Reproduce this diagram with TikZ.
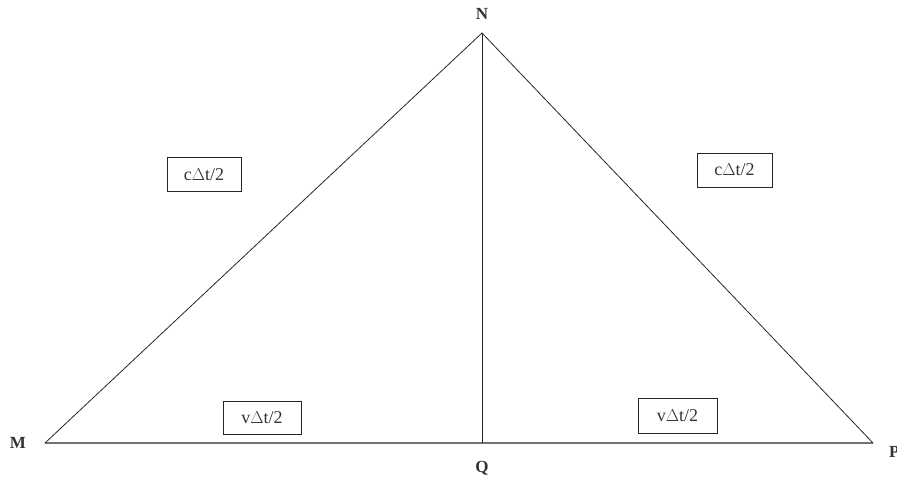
\documentclass[tikz,border=0pt]{standalone}
\usepackage{fontspec}
\setmainfont{Liberation Serif}
\begin{document}
\begin{tikzpicture}[x=1pt,y=-1pt,
  line/.style={line width=0.8pt,draw=black!85},
  base/.style={line width=1.1pt,draw=black!55},
  lbox/.style={draw=black!85,line width=0.8pt,minimum height=34pt,inner sep=0pt,font=\fontsize{18}{20}\selectfont,text=black!80},
  ptlabel/.style={font=\fontsize{17}{19}\selectfont\bfseries,text=black!80}]
\useasboundingbox (0,0) rectangle (897,482);
\coordinate (M) at (45,443);
\coordinate (N) at (482,33);
\coordinate (Q) at (482,443);
\coordinate (P) at (873,443);
\draw[base] (M) -- (P);
\draw[line] (M) -- (N) -- (P);
\draw[line] (N) -- (Q);
\node[ptlabel] (lM) at (18,443) {M};
\node[ptlabel] (lN) at (482,14) {N};
\node[ptlabel] (lQ) at (482,468) {Q};
\node[ptlabel,anchor=west,inner sep=0pt] (lP) at (889,452) {P};
\node[lbox,minimum width=74pt] (c1) at (204,174.5) {c$\Delta$t/2};
\node[lbox,minimum width=75pt] (c2) at (734.5,170) {c$\Delta$t/2};
\node[lbox,minimum width=78pt,minimum height=33pt] (v1) at (262,417.5) {v$\Delta$t/2};
\node[lbox,minimum width=79pt,minimum height=35pt] (v2) at (677.5,415.5) {v$\Delta$t/2};
\end{tikzpicture}
\end{document}
